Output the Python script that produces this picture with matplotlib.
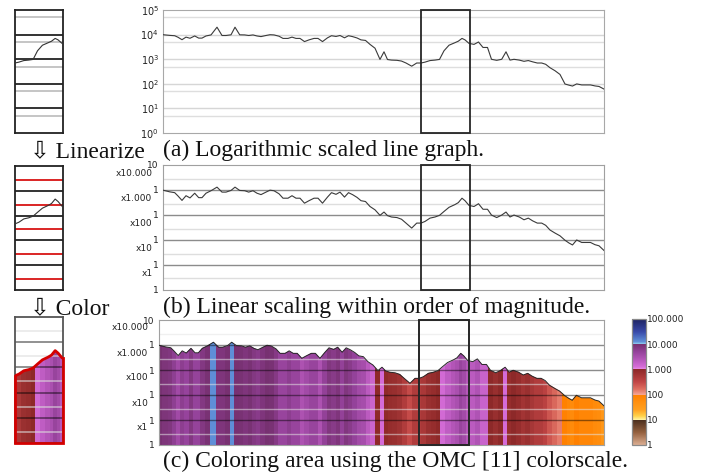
import numpy as np
import matplotlib
matplotlib.use("Agg")
import matplotlib.pyplot as plt
import matplotlib.transforms as mtransforms
from matplotlib.colors import LinearSegmentedColormap, Normalize
from matplotlib.patches import Polygon, Rectangle
from matplotlib.ticker import FixedLocator, NullLocator, LogFormatterSciNotation

# ---------------- data ----------------
# horizontal position of each sample (axis units 0..441)
x_pos = [0, 6.7, 11.7, 15, 19, 23, 27, 31.7, 35.7, 39, 43, 48, 54, 59, 63, 68, 72,
         76.7, 81.7, 85.7, 90, 94, 98, 103, 107, 111, 116, 120, 125, 129, 133, 137,
         141.5, 146, 151, 155, 159.5, 164.5, 168.5, 173, 177, 181.5, 185.5, 189.5,
         194, 198, 202.5, 207, 212, 217, 221, 224.5, 228.5, 234, 238.5, 243, 248.7,
         253.7, 258, 262, 267, 272, 276.5, 281, 286, 292, 295.3, 299, 302, 306, 311,
         315.5, 320, 324.5, 328.5, 333.7, 338.7, 343, 347, 351, 356.3, 361, 365.3,
         369.7, 374.3, 378.7, 382.7, 387, 392, 397, 402, 406, 409.5, 413.7, 418.7,
         423, 427.5, 432, 436, 441]
values = [9900, 9300, 9000, 7800, 6200, 7900, 7100, 8800, 7200, 7200, 8800, 9700,
          20000, 9200, 9200, 9800, 20000, 9800, 9700, 9200, 9700, 8800, 8300, 9200,
          9900, 9700, 8600, 7000, 7000, 7900, 7000, 7000, 5200, 6100, 7000, 7000,
          5200, 7400, 9000, 8400, 9200, 7400, 9000, 8300, 7300, 6100, 5800, 4000,
          2800, 980, 2000, 970, 920, 900, 840, 700, 520, 700, 700, 760, 880, 920,
          980, 2200, 3700, 4700, 5400, 7000, 6100, 4400, 4000, 5000, 3000, 3000,
          990, 900, 990, 2000, 920, 990, 920, 820, 880, 780, 700, 700, 620, 450,
          340, 240, 98, 88, 81, 99, 90, 90, 90, 82, 78, 61]
box_range = [258, 307]
decade_ticks = [0, 1, 2, 3, 4, 5]
decade_labels = ["1", "1", "1", "1", "1", "10"]
magnitude_labels = ["x1", "x10", "x100", "x1.000", "x10.000"]
colorbar_labels = ["1", "10", "100", "1.000", "10.000", "100.000"]
captions = ["(a) Logarithmic scaled line graph.",
            "(b) Linear scaling within order of magnitude.",
            "(c) Coloring area using the OMC [11] colorscale."]
step_labels = ["\u21e9 Linearize", "\u21e9 Color"]


def linearize(v):
    v = np.asarray(v, dtype=float)
    d = np.floor(np.log10(v) + 1e-12)
    return d + (v / 10 ** d - 1) / 9


pos = linearize(values)
xs = np.asarray(x_pos, dtype=float)
HALF = 4 / 9  # position of 5 within a decade

# OMC-like colour scale over 0..5 (one hue per order of magnitude)
stops = [
    (0.00, "#dcae92"), (0.50, "#94603e"), (1.00, "#4a2e1e"),
    (1.00, "#fff3a0"), (1.15, "#ffd24a"), (1.40, "#ffa020"), (2.00, "#ff8000"),
    (2.00, "#f4a494"), (2.20, "#e07262"), (2.50, "#c24646"), (3.00, "#8c2828"),
    (3.00, "#ea92ea"), (3.10, "#d66cd8"), (3.40, "#b456b8"), (3.70, "#94429a"),
    (4.00, "#76306f"),
    (4.00, "#96d4f2"), (4.10, "#6090d8"), (4.50, "#3848a8"), (5.00, "#1e2360"),
]
cmap = LinearSegmentedColormap.from_list("omc", [(p / 5, c) for p, c in stops], N=2048)
norm = Normalize(0, 5)

W, H = 707, 476
fig = plt.figure(figsize=(W / 100, H / 100), dpi=100)


def fax(l, t, r, b):
    return fig.add_axes([l / W, 1 - b / H, (r - l) / W, (b - t) / H])


def style_spines(ax, color, lw):
    for s in ax.spines.values():
        s.set_color(color)
        s.set_linewidth(lw)


def draw_box(ax, lw=1.3):
    tr = mtransforms.blended_transform_factory(ax.transData, ax.transAxes)
    ax.add_patch(Rectangle((box_range[0], 0), box_range[1] - box_range[0], 1,
                           transform=tr, fill=False, ec="#262626", lw=lw,
                           clip_on=False, zorder=6))


def colored_area(ax):
    edges = np.concatenate([[xs[0]], (xs[1:] + xs[:-1]) / 2, [xs[-1]]])
    mesh = ax.pcolormesh(edges, [0, 5], pos[np.newaxis, :], cmap=cmap, norm=norm,
                         shading="flat", zorder=1)
    poly = Polygon(np.column_stack([np.r_[xs[0], xs, xs[-1]], np.r_[0, pos, 0]]),
                   closed=True, transform=ax.transData, fc="none", ec="none")
    ax.add_patch(poly)
    mesh.set_clip_path(poly)


# ---------------- (a) log line graph ----------------
ax = fax(163, 10, 604, 133)
ax.set_yscale("log")
ax.set_ylim(1, 1e5)
ax.set_xlim(0, 441)
for d in range(5):
    ax.axhline(5 * 10 ** d, color="#dedede", lw=1, zorder=0)
    if d > 0:
        ax.axhline(10 ** d, color="#d6d6d6", lw=1, zorder=0)
ax.plot(xs, values, color="#3a3a3a", lw=0.8, zorder=3)
ax.yaxis.set_major_locator(FixedLocator([10.0 ** d for d in decade_ticks]))
ax.yaxis.set_major_formatter(LogFormatterSciNotation())
ax.yaxis.set_minor_locator(NullLocator())
ax.set_xticks([])
ax.tick_params(axis="y", length=0, pad=3, labelsize=7, labelcolor="#222222")
style_spines(ax, "#a8a8a8", 0.8)
draw_box(ax)

# ---------------- (b) linear within decade ----------------
ax = fax(163, 165, 604, 289.5)
ax.set_ylim(0, 5)
ax.set_xlim(0, 441)
for d in range(5):
    ax.axhline(d + HALF, color="#dedede", lw=1, zorder=0)
    if d > 0:
        ax.axhline(d, color="#8c8c8c", lw=1, zorder=0)
ax.plot(xs, pos, color="#3a3a3a", lw=0.8, zorder=3)
ax.set_yticks(decade_ticks)
ax.set_yticklabels(decade_labels)
ax.set_xticks([])
ax.tick_params(axis="y", length=0, pad=3, labelsize=6.5, labelcolor="#222222")
tr = mtransforms.blended_transform_factory(ax.transAxes, ax.transData)
for d, lab in enumerate(magnitude_labels):
    ax.text(-0.024, d + 0.65, lab, transform=tr, ha="right", va="center",
            fontsize=6.5, color="#222222")
style_spines(ax, "#a0a0a0", 0.8)
draw_box(ax)

# ---------------- (c) coloured area ----------------
ax = fax(159, 320, 604, 445)
ax.set_ylim(0, 5)
ax.set_xlim(0, 441)
colored_area(ax)
for d in range(5):
    ax.axhline(d + HALF, color="#e4e4e4", lw=1, alpha=0.55, zorder=2)
    if d > 0:
        ax.axhline(d, color="#000000", lw=1, alpha=0.45, zorder=2)
ax.plot(xs, pos, color="#262626", lw=0.7, zorder=3)
ax.set_yticks(decade_ticks)
ax.set_yticklabels(decade_labels)
ax.set_xticks([])
ax.tick_params(axis="y", length=0, pad=3, labelsize=6.5, labelcolor="#222222")
tr = mtransforms.blended_transform_factory(ax.transAxes, ax.transData)
for d, lab in enumerate(magnitude_labels):
    ax.text(-0.024, d + 0.68, lab, transform=tr, ha="right", va="center",
            fontsize=6.5, color="#222222")
style_spines(ax, "#a0a0a0", 0.8)
draw_box(ax, lw=1.4)

# colour bar
cax = fax(632, 319, 646, 445)
sm = matplotlib.cm.ScalarMappable(norm=norm, cmap=cmap)
cb = fig.colorbar(sm, cax=cax, ticks=decade_ticks)
cb.set_ticklabels(colorbar_labels)
cb.outline.set_edgecolor("#8a8a8a")
cb.outline.set_linewidth(0.9)
cax.tick_params(length=0, pad=1, labelsize=6.5, labelcolor="#222222")

# ---------------- mini panels (zoom on the box) ----------------
ma = fax(15, 10, 63, 133)
ma.set_yscale("log")
ma.set_ylim(1, 1e5)
ma.set_xlim(*box_range)
for d in range(5):
    ma.axhline(5 * 10 ** d, color="#c0c0c0", lw=1.3, zorder=0)
    if d > 0:
        ma.axhline(10 ** d, color="#111111", lw=1.2, zorder=0)
ma.plot(xs, values, color="#333333", lw=0.8, zorder=3)
ma.set_xticks([]); ma.set_yticks([]); ma.yaxis.set_minor_locator(NullLocator())
style_spines(ma, "#222222", 1.3)

mb = fax(15, 166, 63, 290)
mb.set_ylim(0, 5)
mb.set_xlim(*box_range)
for d in range(5):
    mb.axhline(d + HALF, color="#d40000", lw=1.2, zorder=0)
    if d > 0:
        mb.axhline(d, color="#111111", lw=1.2, zorder=0)
mb.plot(xs, pos, color="#333333", lw=0.8, zorder=3)
mb.set_xticks([]); mb.set_yticks([])
style_spines(mb, "#222222", 1.3)

mc = fax(15, 317, 63, 443)
mc.set_ylim(0, 5)
mc.set_xlim(*box_range)
colored_area(mc)
for d in range(5):
    mc.axhline(d + HALF, color="#dcdcdc", lw=1.1, alpha=0.7, zorder=2)
    if d > 0:
        mc.axhline(d, color="#000000", lw=1.1, alpha=0.55, zorder=2)
red = "#d40000"
mc.plot(xs, pos, color=red, lw=2, zorder=5, solid_joinstyle="round")
y_left = np.interp(box_range[0], xs, pos)
y_right = np.interp(box_range[1], xs, pos)
mc.plot([box_range[0], box_range[0], box_range[1], box_range[1]],
        [y_left, 0, 0, y_right], color=red, lw=2, zorder=5, clip_on=False,
        solid_joinstyle="miter")
mc.set_xticks([]); mc.set_yticks([])
style_spines(mc, "#555555", 1.3)

# ---------------- texts ----------------
serif = ["Liberation Serif", "DejaVu Serif"]
arrow_fam = ["Liberation Serif", "DejaVu Sans"]
cap_y = [156, 313, 467]
for cap, y in zip(captions, cap_y):
    fig.text(163 / W, 1 - y / H, cap, family=serif, fontsize=17, va="baseline",
             ha="left", color="#111111")
for lab, y in zip(step_labels, [157, 314]):
    fig.text(30 / W, 1 - y / H, lab, family=arrow_fam, fontsize=17,
             va="baseline", ha="left", color="#111111")

fig.savefig("out.png", dpi=100)
